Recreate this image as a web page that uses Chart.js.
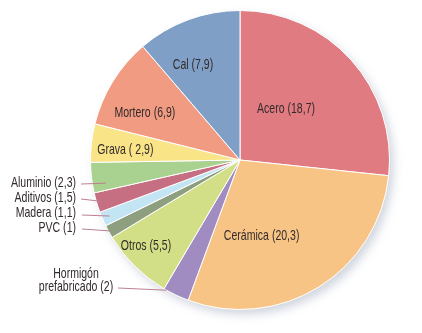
<!DOCTYPE html>
<html>
<head>
<meta charset="utf-8">
<script src="https://cdn.jsdelivr.net/npm/chart.js@4"></script>
<style>
  html, body { margin: 0; padding: 0; background: #fff; }
</style>
</head>
<body>
<canvas id="pieChart" width="422" height="333"></canvas>
<script>
// data, clockwise from 12 o'clock
const categories = ['Acero', 'Cerámica', 'Hormigón prefabricado', 'Otros', 'PVC', 'Madera', 'Aditivos', 'Aluminio', 'Grava', 'Mortero', 'Cal'];
const values = [18.7, 20.3, 2, 5.5, 1, 1.1, 1.5, 2.3, 2.9, 6.9, 7.9];
const valueText = ['18,7', '20,3', '2', '5,5', '1', '1,1', '1,5', '2,3', ' 2,9', '6,9', '7,9'];
const colors = ['#e07b82', '#f8c486', '#a08cc0', '#d3df86', '#8e9f80', '#c2e4f3', '#c66f82', '#a9d18f', '#f9e487', '#f09b82', '#7f9fc6'];

// label placement: inside labels use radius fraction + angle tweak,
// outside labels sit left of the pie with a leader line
const labelPlace = [
  { r: 0.46, da: -6 },
  { r: 0.53, da: 16 },
  { out: true, tx: -164, ty: 114, align: 'center', lx: -122, ly: 128, r: 1.0, da: 4 },
  { r: 0.85, da: 3 },
  { out: true, tx: -164, ty: 68, align: 'right', lx: -158, ly: 69, r: 0.99, da: 0 },
  { out: true, tx: -164, ty: 53, align: 'right', lx: -158, ly: 55, r: 0.95, da: 0 },
  { out: true, tx: -164, ty: 38, align: 'right', lx: -159, ly: 39, r: 0.97, da: 0 },
  { out: true, tx: -164, ty: 23, align: 'right', lx: -159, ly: 24, r: 0.91, da: -3 },
  { r: 0.77, da: -1.5 },
  { r: 0.71, da: -5.4 },
  { r: 0.71, da: -6 }
];

// condensed text: pick a narrow face if there is one, then squeeze to the width of the original
const probe = document.createElement('canvas').getContext('2d');
probe.font = '14.5px "Liberation Sans Narrow", monospace';
const wNarrow = probe.measureText('Acero (18,7)').width;
probe.font = '14.5px monospace';
const wMono = probe.measureText('Acero (18,7)').width;
const hasNarrow = Math.abs(wNarrow - wMono) > 0.5;
const labelFont = hasNarrow ? '14.5px "Liberation Sans Narrow"' : '14.5px "Liberation Sans"';
probe.font = labelFont;
const squeeze = 58 / probe.measureText('Acero (18,7)').width;

function drawText(ctx, txt, x, y, align) {
  ctx.save();
  ctx.translate(x, y);
  ctx.scale(squeeze, 1);
  ctx.textAlign = align;
  ctx.fillText(txt, 0, 0);
  ctx.restore();
}

const shadowPlugin = {
  id: 'pieShadow',
  beforeDatasetsDraw(chart) {
    const arc = chart.getDatasetMeta(0).data[0];
    if (!arc) return;
    const ctx = chart.ctx;
    ctx.save();
    ctx.shadowColor = 'rgba(120, 135, 160, 0.35)';
    ctx.shadowBlur = 10;
    ctx.shadowOffsetX = 4;
    ctx.shadowOffsetY = 5;
    ctx.beginPath();
    ctx.arc(arc.x, arc.y, arc.outerRadius, 0, Math.PI * 2);
    ctx.fillStyle = '#ffffff';
    ctx.fill();
    ctx.restore();
  }
};

const labelPlugin = {
  id: 'sliceLabels',
  afterDatasetsDraw(chart) {
    const ctx = chart.ctx;
    const meta = chart.getDatasetMeta(0);
    ctx.save();
    ctx.font = labelFont;
    ctx.fillStyle = '#332b2b';
    ctx.textBaseline = 'middle';
    meta.data.forEach((arc, i) => {
      const p = labelPlace[i];
      const { x, y, startAngle, endAngle, outerRadius } = arc.getProps(['x', 'y', 'startAngle', 'endAngle', 'outerRadius'], true);
      const a = (startAngle + endAngle) / 2 + p.da * Math.PI / 180;
      const px = x + Math.cos(a) * outerRadius * p.r;
      const py = y + Math.sin(a) * outerRadius * p.r;
      const name = categories[i];
      if (!p.out) {
        drawText(ctx, name + ' (' + valueText[i] + ')', px, py, 'center');
        return;
      }
      ctx.strokeStyle = '#bd7f90';
      ctx.lineWidth = 1;
      ctx.beginPath();
      ctx.moveTo(x + p.lx, y + p.ly);
      ctx.lineTo(px, py);
      ctx.stroke();
      const words = name.split(' ');
      if (words.length > 1) {
        drawText(ctx, words[0], x + p.tx, y + p.ty, p.align);
        drawText(ctx, words.slice(1).join(' ') + ' (' + valueText[i] + ')', x + p.tx, y + p.ty + 13, p.align);
      } else {
        drawText(ctx, name + ' (' + valueText[i] + ')', x + p.tx, y + p.ty, p.align);
      }
    });
    ctx.restore();
  }
};

new Chart(document.getElementById('pieChart'), {
  type: 'pie',
  data: {
    labels: categories,
    datasets: [{
      data: values,
      backgroundColor: colors,
      borderColor: '#ffffff',
      borderWidth: 1
    }]
  },
  options: {
    responsive: false,
    devicePixelRatio: 1,
    animation: false,
    layout: { padding: { left: 90, right: 32, top: 10, bottom: 23 } },
    plugins: {
      legend: { display: false },
      tooltip: { enabled: false }
    }
  },
  plugins: [shadowPlugin, labelPlugin]
});
</script>
</body>
</html>
